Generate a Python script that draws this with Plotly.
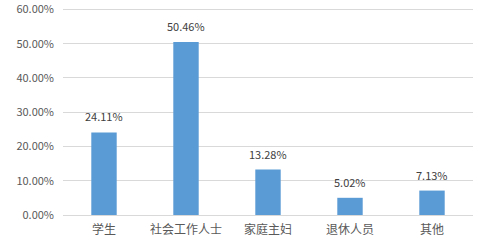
import plotly.graph_objects as go

categories = ["学生", "社会工作人士", "家庭主妇", "退休人员", "其他"]
values = [24.11, 50.46, 13.28, 5.02, 7.13]
labels = ["24.11%", "50.46%", "13.28%", "5.02%", "7.13%"]
tick_vals = [0, 10, 20, 30, 40, 50, 60]
tick_text = ["0.00%", "10.00%", "20.00%", "30.00%", "40.00%", "50.00%", "60.00%"]

font_family = "Microsoft YaHei, Noto Sans CJK SC, DejaVu Sans, sans-serif"

fig = go.Figure(go.Bar(
    x=categories, y=values,
    marker=dict(color="#5B9BD5", line=dict(width=0)),
))
for c, v, t in zip(categories, values, labels):
    fig.add_annotation(x=c, y=v, text=t, showarrow=False, yanchor="bottom",
                       yshift=6, font=dict(size=11, color="#404040", family=font_family))
fig.update_layout(
    width=487, height=248,
    margin=dict(l=63, r=14, t=6, b=33),
    paper_bgcolor="white", plot_bgcolor="white",
    bargap=0.69,
    showlegend=False,
    font=dict(family=font_family, color="#595959"),
)
fig.update_yaxes(range=[0, 61], tickvals=tick_vals, ticktext=tick_text,
                 showgrid=True, gridcolor="#D9D9D9", gridwidth=1,
                 zeroline=False, showline=False, ticks="", automargin=False,
                 tickfont=dict(size=11, color="#595959"), ticklabelstandoff=8)
fig.update_xaxes(showline=True, linecolor="#D9D9D9", linewidth=1, ticks="", automargin=False,
                 tickfont=dict(size=12, color="#595959"), ticklabelstandoff=4)
fig.write_html("out.html")
